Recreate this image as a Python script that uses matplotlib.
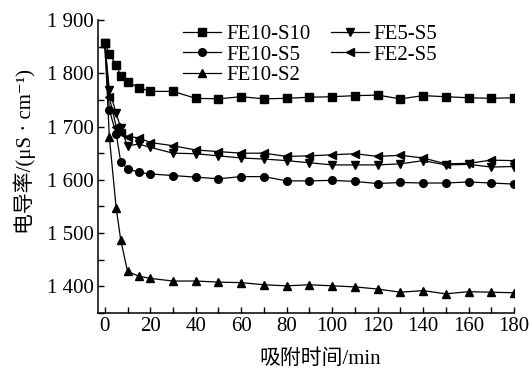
import numpy as np
import matplotlib
matplotlib.use('Agg')
import matplotlib.pyplot as plt
from matplotlib.ticker import MultipleLocator, FuncFormatter

plt.rcParams['font.family'] = ['Liberation Serif', 'Noto Sans CJK SC', 'DejaVu Sans']

# adsorption time (min)
t = [0, 2, 5, 7, 10, 15, 20, 30, 40, 50, 60, 70, 80, 90, 100, 110, 120, 130, 140, 150, 160, 170, 180]

# conductivity (uS/cm)
fe10_s10 = [1856, 1836, 1816, 1795, 1784, 1773, 1766, 1766, 1753, 1752, 1756, 1752, 1753, 1755, 1756, 1758,
            1759, 1752, 1758, 1756, 1754, 1753, 1754]
fe10_s5 = [1856, 1731, 1686, 1634, 1621, 1614, 1611, 1608, 1605, 1602, 1606, 1606, 1598, 1598, 1599, 1597,
           1593, 1595, 1594, 1594, 1596, 1594, 1592]
fe10_s2 = [1856, 1680, 1547, 1487, 1428, 1419, 1415, 1410, 1410, 1408, 1407, 1403, 1401, 1403, 1401, 1399,
           1395, 1389, 1392, 1386, 1390, 1389, 1388]
fe5_s5 = [1856, 1768, 1725, 1697, 1664, 1667, 1661, 1650, 1649, 1645, 1641, 1639, 1636, 1632, 1628, 1628,
          1628, 1630, 1636, 1628, 1629, 1624, 1625]
fe2_s5 = [1856, 1755, 1700, 1687, 1681, 1679, 1670, 1664, 1656, 1653, 1650, 1650, 1644, 1645, 1647, 1649,
          1644, 1646, 1641, 1630, 1631, 1637, 1636]

series = [
    ('FE10-S10', fe10_s10, 's'),
    ('FE10-S5', fe10_s5, 'o'),
    ('FE10-S2', fe10_s2, '^'),
    ('FE5-S5', fe5_s5, 'v'),
    ('FE2-S5', fe2_s5, '<'),
]

fig = plt.figure(figsize=(5.31, 3.69), dpi=100)
ax = fig.add_axes([98 / 531, 1 - 313 / 369, 416 / 531, 293 / 369])

for name, vals, mk in series:
    ax.plot(t, vals, color='black', marker=mk, markersize=5.5, linewidth=0.9, label=name)

ax.set_xlim(-3, 180)
ax.set_ylim(1350, 1900)
ax.xaxis.set_major_locator(MultipleLocator(20))
ax.xaxis.set_minor_locator(MultipleLocator(10))
ax.yaxis.set_major_locator(MultipleLocator(100))
ax.yaxis.set_minor_locator(MultipleLocator(50))
ax.yaxis.set_major_formatter(FuncFormatter(lambda v, p: '{:,}'.format(int(v)).replace(',', ' ')))

for s in ['top', 'right']:
    ax.spines[s].set_visible(False)
for s in ['left', 'bottom']:
    ax.spines[s].set_linewidth(1.1)
ax.tick_params(which='both', direction='in', length=4, width=1, labelsize=15, pad=3)

ax.set_ylabel('电导率/(μS · cm⁻¹)', fontsize=15)
ax.set_xlabel('吸附时间/min', fontsize=15)
ax.yaxis.set_label_coords(-0.15, 0.55)
ax.xaxis.set_label_coords(0.534, -0.125)

ax.legend(ncol=2, loc='upper left', bbox_to_anchor=(0.205, 0.985), frameon=False, fontsize=15,
          labelspacing=0.05, handlelength=1.8, handletextpad=0.25, columnspacing=1.0,
          borderpad=0, borderaxespad=0)

fig.savefig('out.png', dpi=100)
